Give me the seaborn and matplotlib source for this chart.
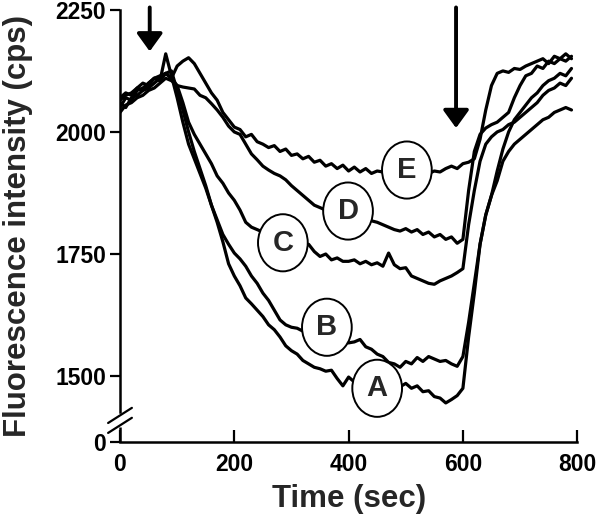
import numpy as np
import pandas as pd
import matplotlib
matplotlib.use("Agg")
import matplotlib.pyplot as plt
from matplotlib.patches import Ellipse
import seaborn as sns

sns.set_theme(style="white")
plt.rcParams["font.family"] = ["Liberation Sans", "DejaVu Sans"]
plt.rcParams["font.weight"] = "bold"
plt.rcParams["axes.labelweight"] = "bold"

# time axis (sec), one reading every 10 s
time_sec = np.arange(0, 800, 10)

trace_a = [2050, 2070, 2065, 2085, 2090, 2100, 2110, 2105, 2160, 2115,
           2070, 2020, 1975, 1945, 1915, 1885, 1850, 1815, 1775, 1730,
           1705, 1685, 1660, 1648, 1635, 1622, 1605, 1595, 1580, 1562,
           1552, 1545, 1532, 1525, 1518, 1515, 1510, 1512, 1495, 1480,
           1498, 1488, 1492, 1475, 1478, 1475, 1480, 1472, 1490, 1478,
           1485, 1475, 1480, 1468, 1470, 1458, 1455, 1445, 1452, 1460,
           1475, 1580, 1670, 1770, 1830, 1870, 1920, 1965, 2000, 2025,
           2040, 2055, 2070, 2080, 2095, 2105, 2110, 2120, 2115, 2130]
trace_b = [2065, 2075, 2080, 2090, 2085, 2100, 2110, 2115, 2120, 2125,
           2085, 2045, 2000, 1960, 1925, 1890, 1850, 1820, 1790, 1770,
           1752, 1740, 1725, 1705, 1690, 1670, 1655, 1635, 1615, 1605,
           1600, 1598, 1592, 1585, 1580, 1578, 1575, 1572, 1570, 1568,
           1568, 1570, 1575, 1560, 1555, 1545, 1540, 1528, 1525, 1518,
           1530, 1525, 1538, 1530, 1540, 1535, 1530, 1532, 1525, 1520,
           1540, 1610, 1690, 1770, 1830, 1870, 1900, 1940, 1960, 1975,
           1985, 1995, 2005, 2015, 2025, 2030, 2040, 2045, 2050, 2045]
trace_c = [2060, 2050, 2070, 2075, 2085, 2090, 2100, 2110, 2120, 2110,
           2095, 2060, 2020, 1995, 1975, 1955, 1935, 1910, 1895, 1875,
           1860, 1840, 1815, 1805, 1800, 1795, 1790, 1785, 1780, 1775,
           1770, 1765, 1762, 1770, 1755, 1745, 1750, 1738, 1742, 1735,
           1735, 1738, 1730, 1735, 1728, 1732, 1725, 1752, 1728, 1720,
           1722, 1705, 1700, 1695, 1690, 1688, 1695, 1700, 1705, 1712,
           1720, 1810, 1880, 1940, 1975, 1990, 2000, 2005, 2015, 2020,
           2030, 2040, 2050, 2060, 2075, 2085, 2090, 2100, 2095, 2110]
trace_d = [2040, 2055, 2060, 2070, 2075, 2085, 2090, 2100, 2110, 2105,
           2095, 2092, 2090, 2088, 2075, 2070, 2058, 2045, 2030, 2012,
           2000, 1995, 1975, 1955, 1943, 1930, 1922, 1915, 1910, 1902,
           1890, 1880, 1870, 1860, 1850, 1845, 1840, 1835, 1830, 1832,
           1828, 1825, 1822, 1820, 1818, 1815, 1810, 1805, 1800, 1797,
           1802, 1795, 1800, 1790, 1795, 1785, 1790, 1780, 1785, 1772,
           1780, 1880, 1960, 1995, 2008, 2015, 2020, 2030, 2040, 2070,
           2095, 2115, 2120, 2135, 2130, 2145, 2140, 2150, 2145, 2155]
trace_e = [2070, 2080, 2075, 2090, 2100, 2095, 2110, 2105, 2120, 2110,
           2135, 2145, 2152, 2140, 2120, 2100, 2080, 2065, 2040, 2025,
           2010, 2005, 1990, 1995, 1980, 1975, 1968, 1972, 1960, 1965,
           1952, 1955, 1945, 1950, 1938, 1942, 1930, 1935, 1925, 1932,
           1920, 1928, 1918, 1925, 1915, 1920, 1918, 1922, 1920, 1915,
           1920, 1918, 1922, 1920, 1915, 1920, 1918, 1925, 1930, 1925,
           1935, 1938, 1945, 1985, 2045, 2095, 2120, 2125, 2122, 2130,
           2128, 2135, 2140, 2145, 2150, 2140, 2155, 2150, 2160, 2150]

traces = {"A": trace_a, "B": trace_b, "C": trace_c, "D": trace_d, "E": trace_e}

# where the circled letters sit (time, intensity)
label_pos = {"A": (450, 1475), "B": (362, 1600), "C": (285, 1773),
             "D": (399, 1838), "E": (502, 1922)}
arrow_times = [52, 588]
arrow_tips = [2165, 2008]

df = pd.concat([pd.DataFrame({"time": time_sec, "intensity": v, "trace": k})
                for k, v in traces.items()], ignore_index=True)

y_bottom = 1365

fig = plt.figure(figsize=(6, 5.2), dpi=100)
ax = fig.add_axes([0.2, 0.15, 0.762, 0.831])

sns.lineplot(data=df, x="time", y="intensity", units="trace", estimator=None,
             color="black", lw=2.3, ax=ax, legend=False)

ax.set_xlim(0, 800)
ax.set_ylim(y_bottom, 2250)
ax.set_xticks([0, 200, 400, 600, 800])
ax.set_yticks([y_bottom, 1500, 1750, 2000, 2250])
ax.set_yticklabels(["0", "1500", "1750", "2000", "2250"])
ax.tick_params(axis="y", direction="out", length=7, width=1.6, labelsize=16.5,
               left=True, colors="black", pad=3)
ax.tick_params(axis="x", direction="in", length=9, width=1.6, labelsize=16.5,
               bottom=True, colors="black", pad=8)

for s in ["top", "right"]:
    ax.spines[s].set_visible(False)
for s in ["left", "bottom"]:
    ax.spines[s].set_color("black")
    ax.spines[s].set_linewidth(1.8)
ax.spines["left"].set_bounds(1427, 2250)

# axis break on y
ax.plot([0, 0], [0, 0.035], transform=ax.transAxes, color="black", lw=1.8,
        clip_on=False, solid_capstyle="butt")
ax.plot([-0.026, 0.026], [0.044, 0.079], transform=ax.transAxes, color="black",
        lw=1.6, clip_on=False)
ax.plot([-0.026, 0.026], [0.021, 0.056], transform=ax.transAxes, color="black",
        lw=1.6, clip_on=False)

ax.set_xlabel("Time (sec)", fontsize=22.5, labelpad=6)
ax.set_ylabel("Fluorescence intensity (cps)", fontsize=22.5)
ax.yaxis.set_label_coords(-0.19, 0.5)

for name, (tx, ty) in label_pos.items():
    ax.add_patch(Ellipse((tx, ty), width=87, height=117, facecolor="white",
                         edgecolor="black", lw=1.4, zorder=3))
    ax.text(tx, ty, name, ha="center", va="center", fontsize=21,
            fontweight="bold", zorder=4)

for t, tip in zip(arrow_times, arrow_tips):
    ax.annotate("", xy=(t, tip), xytext=(t, 2255),
                arrowprops=dict(arrowstyle="-|>,head_length=0.9,head_width=0.65",
                                color="black", lw=2.8, shrinkA=0, shrinkB=0),
                annotation_clip=False)

plt.savefig("out.png", dpi=100)
plt.close()
